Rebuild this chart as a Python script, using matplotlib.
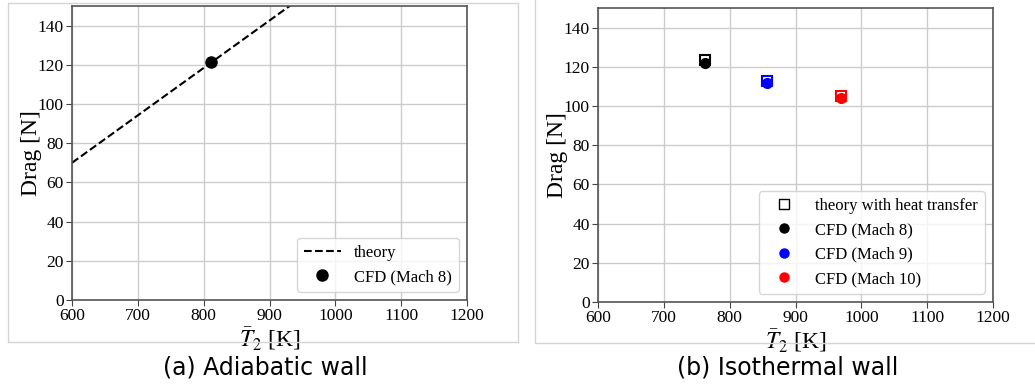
import matplotlib.pyplot as plt
from matplotlib.lines import Line2D

# (a) adiabatic wall
theory_T = [600, 700, 800, 900, 1000]
theory_drag = [70.0, 94.2, 118.4, 142.6, 166.8]
cfd_a_T = [811]
cfd_a_drag = [121.3]

# (b) isothermal wall
iso_labels = ['CFD (Mach 8)', 'CFD (Mach 9)', 'CFD (Mach 10)']
iso_colors = ['black', 'blue', 'red']
iso_T = [762, 857, 969]
iso_theory = [123.5, 113.0, 105.0]
iso_cfd = [122.0, 111.5, 104.0]

xticks = [600, 700, 800, 900, 1000, 1100, 1200]
yticks = [0, 20, 40, 60, 80, 100, 120, 140]

serif = ['Liberation Serif', 'DejaVu Serif']
plt.rcParams['mathtext.fontset'] = 'stix'

W, H = 1035, 387
fig = plt.figure(figsize=(W / 100, H / 100), dpi=100)


def px_axes(l, t, r, b):
    return fig.add_axes([l / W, 1 - b / H, (r - l) / W, (b - t) / H])


def style(ax):
    ax.set_xlim(600, 1200)
    ax.set_ylim(0, 150)
    ax.set_xticks(xticks)
    ax.set_yticks(yticks)
    ax.grid(True, color='#cccccc', linewidth=1)
    ax.set_axisbelow(True)
    for lab in ax.get_xticklabels() + ax.get_yticklabels():
        lab.set_family(serif)
        lab.set_fontsize(12.5)
    ax.tick_params(length=4, color='#444444', pad=2)
    for s in ax.spines.values():
        s.set_color('#555555')
        s.set_linewidth(1.2)
    ax.set_ylabel('Drag [N]', family=serif, fontsize=17, labelpad=-3)
    ax.set_xlabel(r'$\bar{T}_2$ [K]', family=serif, fontsize=17, labelpad=1)


# frame lines around the two images
fig.add_artist(Line2D([8 / W, 8 / W, 518 / W, 518 / W], [1 - 342 / H, 1 - 3 / H, 1 - 3 / H, 1 - 342 / H],
                      color='#d5d5d5', lw=1))
fig.add_artist(Line2D([8 / W, 518 / W], [1 - 342 / H, 1 - 342 / H], color='#d5d5d5', lw=1))
fig.add_artist(Line2D([535 / W, 535 / W, 1], [1, 1 - 343 / H, 1 - 343 / H], color='#d5d5d5', lw=1))

ax1 = px_axes(72, 6, 467, 300)
ax1.plot(theory_T, theory_drag, 'k--', lw=1.5, label='theory')
ax1.plot(cfd_a_T, cfd_a_drag, 'o', color='black', ms=8, linestyle='none', label='CFD (Mach 8)')
style(ax1)
ax1.legend(loc='lower right', prop={'family': serif, 'size': 12}, handlelength=2.2)

ax2 = px_axes(598, 8, 993, 302)
for T, th, cf, c, lab in zip(iso_T, iso_theory, iso_cfd, iso_colors, iso_labels):
    ax2.plot([T], [th], 's', mfc='white', mec=c, mew=1.5, ms=7.5, linestyle='none')
    ax2.plot([T], [cf], 'o', color=c, ms=7, linestyle='none')
style(ax2)
handles = [Line2D([], [], marker='s', mfc='none', mec='black', ls='none', ms=6.5)]
handles += [Line2D([], [], marker='o', color=c, ls='none', ms=6.5) for c in iso_colors]
ax2.legend(handles, ['theory with heat transfer'] + iso_labels, loc='lower right',
           prop={'family': serif, 'size': 12}, handlelength=2.2)

fig.text(265 / W, 1 - 367 / H, '(a) Adiabatic wall', ha='center', va='center', fontsize=17)
fig.text(788 / W, 1 - 367 / H, '(b) Isothermal wall', ha='center', va='center', fontsize=17)

fig.savefig('out.png', dpi=100)
